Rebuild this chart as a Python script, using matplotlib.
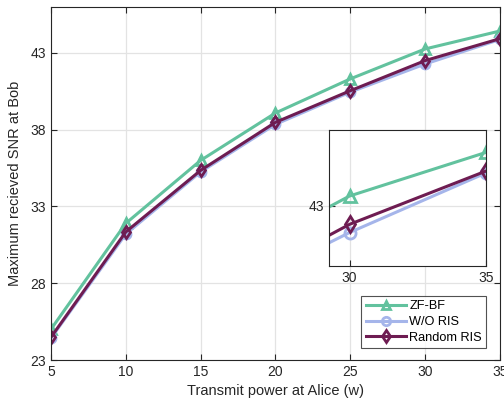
import matplotlib
matplotlib.use("Agg")
import matplotlib.pyplot as plt

plt.rcParams["font.family"] = ["Liberation Sans", "DejaVu Sans"]

power = [5, 10, 15, 20, 25, 30, 35]
zf_bf = [25.0, 31.9, 36.0, 39.09, 41.31, 43.26, 44.43]
wo_ris = [24.42, 31.2, 35.25, 38.35, 40.45, 42.28, 43.88]
random_ris = [24.48, 31.34, 35.35, 38.48, 40.54, 42.5, 43.93]

x_ticks = [5, 10, 15, 20, 25, 30, 35]
y_ticks = [23, 28, 33, 38, 43]

series = [
    ("ZF-BF", zf_bf, "#62C29E", "^"),
    ("W/O RIS", wo_ris, "#A5B5EA", "o"),
    ("Random RIS", random_ris, "#6E1C52", "d"),
]

fig = plt.figure(figsize=(5.04, 4.05), dpi=100)
ax = fig.add_axes([0.101, 0.111, 0.891, 0.872])


def draw(a, ms):
    for label, vals, color, marker in series:
        a.plot(power, vals, color=color, linewidth=2.2, marker=marker,
               markersize=ms, markerfacecolor="none", markeredgewidth=2.0,
               label=label)
    a.grid(True, color="#e3e3e3", linewidth=0.9)
    a.set_axisbelow(True)
    a.tick_params(direction="in", top=True, right=True, labelsize=10,
                  length=4, width=0.8, colors="#262626")
    for s in a.spines.values():
        s.set_color("#262626")
        s.set_linewidth(0.8)


draw(ax, 6.5)
ax.set_xlim(5, 35)
ax.set_ylim(23, 46)
ax.set_xticks(x_ticks)
ax.set_yticks(y_ticks)
ax.set_xlabel("Transmit power at Alice (w)", fontsize=10.5, color="#262626", labelpad=4)
ax.set_ylabel("Maximum recieved SNR at Bob", fontsize=10.5, color="#262626", labelpad=6)

leg = ax.legend(loc="lower right", bbox_to_anchor=(0.97, 0.033), fontsize=9.2,
                handlelength=3.1, frameon=True, fancybox=False, borderpad=0.35,
                labelspacing=0.3, handletextpad=0.3, borderaxespad=0)
leg.get_frame().set_edgecolor("#262626")
leg.get_frame().set_linewidth(0.8)
for h in leg.legend_handles:
    h.set_markersize(6)

ins = fig.add_axes([0.653, 0.343, 0.3115, 0.336])
draw(ins, 8)
ins.set_xlim(29.25, 35)
ins.set_ylim(41.38, 45.03)
ins.set_xticks([30, 35])
ins.set_yticks([43])
ins.tick_params(top=False, right=False, labelsize=10)

fig.savefig("out.png", dpi=100)
